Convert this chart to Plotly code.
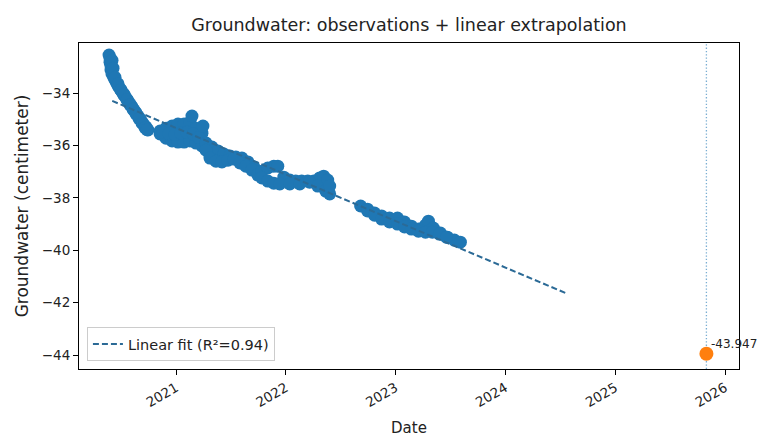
import datetime as dt
import plotly.graph_objects as go

# ---- data (decimal years, centimetres) ----
obs_year = [
    # 2020 spring-autumn descent
    2020.391, 2020.400, 2020.400, 2020.409, 2020.409, 2020.418, 2020.436, 2020.455,
    2020.473, 2020.491, 2020.509, 2020.527, 2020.545, 2020.564, 2020.582, 2020.600,
    2020.618, 2020.636, 2020.655, 2020.673, 2020.691, 2020.709, 2020.727, 2020.745,
    2020.418, 2020.427, 2020.445, 2020.473, 2020.500, 2020.527, 2020.555, 2020.582,
    2020.609, 2020.636, 2020.664, 2020.691, 2020.718, 2020.736,
    # winter 2020/21 cluster
    2020.855, 2020.909, 2020.964, 2021.018, 2021.073, 2021.127, 2021.145, 2021.182, 2021.236,
    2020.855, 2020.909, 2020.964, 2021.018, 2021.073, 2021.127, 2021.182, 2021.236,
    2020.882, 2020.936, 2020.991, 2021.045, 2021.100, 2021.155, 2021.209, 2021.245,
    # 2021 descent
    2021.273, 2021.327, 2021.382, 2021.436, 2021.491, 2021.545, 2021.600, 2021.655, 2021.709,
    2021.273, 2021.309, 2021.364, 2021.418, 2021.473, 2021.527, 2021.582, 2021.636, 2021.691, 2021.745,
    # late 2021 - spring 2022 plateau
    2021.782, 2021.836, 2021.891, 2021.927, 2021.982, 2022.036, 2022.091, 2022.145, 2022.200,
    2022.255, 2022.309, 2022.345,
    2021.782, 2021.836, 2021.891, 2021.945, 2022.036, 2022.127, 2022.218, 2022.291, 2022.364, 2022.400,
    2022.382, 2022.400,
    # autumn 2022 - summer 2023
    2022.682, 2022.745, 2022.809, 2022.873, 2022.945, 2023.018, 2023.082, 2023.145, 2023.209,
    2023.273, 2023.300, 2023.345, 2023.409, 2023.473, 2023.536, 2023.591,
    2022.745, 2022.809, 2022.873, 2022.945, 2023.018, 2023.082, 2023.145, 2023.209, 2023.273,
    2023.336, 2023.400, 2023.464,
]
obs_value = [
    -32.55, -32.66, -32.82, -32.97, -33.12, -33.27, -33.43, -33.58,
    -33.73, -33.85, -33.96, -34.08, -34.19, -34.31, -34.42, -34.53,
    -34.65, -34.76, -34.88, -34.99, -35.11, -35.22, -35.30, -35.41,
    -32.75, -33.05, -33.40, -33.65, -33.88, -34.05, -34.25, -34.45,
    -34.62, -34.80, -34.98, -35.15, -35.32, -35.40,
    -35.45, -35.34, -35.26, -35.18, -35.18, -35.11, -34.88, -35.34, -35.53,
    -35.56, -35.72, -35.83, -35.87, -35.87, -35.83, -35.91, -36.02,
    -35.50, -35.55, -35.58, -35.53, -35.50, -35.56, -35.70, -35.26,
    -35.91, -36.06, -36.21, -36.33, -36.40, -36.44, -36.48, -36.63, -36.82,
    -36.18, -36.48, -36.60, -36.63, -36.56, -36.52, -36.67, -36.79, -36.94, -37.13,
    -36.98, -36.86, -36.79, -36.79, -37.21, -37.32, -37.36, -37.36, -37.36,
    -37.36, -37.24, -37.17,
    -37.24, -37.36, -37.44, -37.47, -37.47, -37.47, -37.40, -37.55, -37.74, -37.85,
    -37.32, -37.55,
    -38.31, -38.43, -38.58, -38.69, -38.77, -38.77, -38.92, -39.08, -39.19,
    -39.04, -38.89, -39.15, -39.34, -39.50, -39.61, -39.69,
    -38.50, -38.66, -38.81, -38.92, -39.00, -39.11, -39.19, -39.27, -39.31,
    -39.31, -39.38, -39.50,
]

fit_year = [2020.42, 2024.57]
fit_value = [-34.30, -41.67]
fit_r2 = 0.94

target_year = [2025.83]
target_value = [-43.947]

tick_years = [2021, 2022, 2023, 2024, 2025, 2026]
y_ticks = [-44, -42, -40, -38, -36, -34]

x_range_years = [2020.118, 2026.127]
y_range = [-44.53, -32.09]


def to_date(y):
    year = int(y)
    start = dt.datetime(year, 1, 1)
    length = (dt.datetime(year + 1, 1, 1) - start).total_seconds()
    return start + dt.timedelta(seconds=(y - year) * length)


obs_dates = [to_date(v) for v in obs_year]
fit_dates = [to_date(v) for v in fit_year]
target_dates = [to_date(v) for v in target_year]

BLUE = "#1f77b4"
ORANGE = "#ff7f0e"
FONT = "DejaVu Sans"
TXT = "#222222"

W, H = 761, 437

fig = go.Figure()

fig.add_trace(go.Scatter(
    x=obs_dates, y=obs_value, mode="markers",
    marker=dict(color=BLUE, size=13, line=dict(width=0)),
    showlegend=False, hoverinfo="skip",
))

fig.add_trace(go.Scatter(
    x=fit_dates, y=fit_value, mode="lines",
    line=dict(color="#2b6a96", width=2, dash="6px,3px"),
    name=f"Linear fit (R²={fit_r2:.2f})",
))

fig.add_trace(go.Scatter(
    x=target_dates, y=target_value, mode="markers",
    marker=dict(color=ORANGE, size=14, line=dict(width=0)),
    showlegend=False, hoverinfo="skip",
))

fig.add_shape(
    type="line", xref="x", yref="paper",
    x0=target_dates[0], x1=target_dates[0], y0=0, y1=1,
    line=dict(color="rgba(31,119,180,0.6)", width=1.3, dash="1.3px,2px"),
    layer="below",
)

fig.add_annotation(
    x=target_dates[0], y=target_value[0], text=f"{target_value[0]:.3f}",
    showarrow=False, xanchor="left", yanchor="middle", xshift=4, yshift=10,
    borderpad=0,
    font=dict(family=FONT, size=12, color=TXT),
)

fig.update_layout(
    width=W, height=H,
    margin=dict(l=79, r=22, t=43, b=68),
    paper_bgcolor="white", plot_bgcolor="white",
    font=dict(family=FONT, size=13.5, color=TXT),
    title=dict(
        text="Groundwater: observations + linear extrapolation",
        x=0.5, xref="paper", xanchor="center",
        y=1 - 25 / H, yref="container", yanchor="middle",
        font=dict(family=FONT, size=17.5, color=TXT),
        automargin=False,
    ),
    legend=dict(
        x=0.012, y=0.024, xanchor="left", yanchor="bottom",
        bgcolor="rgba(255,255,255,0.8)", bordercolor="#cccccc", borderwidth=1,
        font=dict(family=FONT, size=14.5, color=TXT),
    ),
    showlegend=True,
    hovermode=False,
)

fig.update_xaxes(
    type="date", automargin=False,
    range=[to_date(x_range_years[0]), to_date(x_range_years[1])],
    tickvals=[dt.datetime(y, 1, 1) for y in tick_years],
    ticktext=[str(y) for y in tick_years],
    tickangle=-30, tickfont=dict(size=13.5),
    ticks="outside", ticklen=5, tickcolor="black",
    showline=True, linecolor="black", linewidth=1, mirror=True,
    showgrid=False, zeroline=False,
    title=dict(text="Date", standoff=14, font=dict(family=FONT, size=15)),
)

fig.update_yaxes(
    automargin=False,
    range=y_range,
    tickvals=y_ticks,
    ticktext=[f"\u2212{abs(v)}" for v in y_ticks],
    tickfont=dict(size=13.5),
    ticks="outside", ticklen=5, tickcolor="black",
    showline=True, linecolor="black", linewidth=1, mirror=True,
    showgrid=False, zeroline=False,
    title=dict(text="Groundwater (centimeter)", standoff=8, font=dict(family=FONT, size=17)),
)

fig.write_html(
    "out.html",
    config={"displayModeBar": False},
    post_script="document.body.style.margin='0';document.body.style.overflow='hidden';",
)
